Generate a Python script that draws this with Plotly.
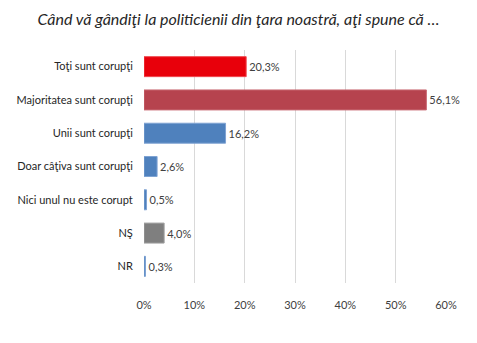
import plotly.graph_objects as go

categories = ["Toţi sunt corupţi", "Majoritatea sunt corupţi", "Unii sunt corupţi",
              "Doar câţiva sunt corupţi", "Nici unul nu este corupt", "NŞ", "NR"]
values = [20.3, 56.1, 16.2, 2.6, 0.5, 4.0, 0.3]
labels = ["20,3%", "56,1%", "16,2%", "2,6%", "0,5%", "4,0%", "0,3%"]
colors = ["#E8000B", "#B6434E", "#4F81BD", "#4F81BD", "#4F81BD", "#7F7F7F", "#4F81BD"]
line_colors = ["#F04A50", "#C86A73", "#7FA3D3", "#7FA3D3", "#7FA3D3", "#A0A0A0", "#7FA3D3"]
tick_vals = [0, 10, 20, 30, 40, 50, 60]
tick_text = ["0%", "10%", "20%", "30%", "40%", "50%", "60%"]
title = "Când vă gândiţi la politicienii din ţara noastră, aţi spune că …"

font = "Lato, 'Open Sans', sans-serif"

fig = go.Figure(go.Bar(
    x=values, y=categories, orientation="h",
    marker=dict(color=colors, line=dict(color=line_colors, width=1)),
    text=labels, textposition="outside", cliponaxis=False,
    textfont=dict(size=11, color="#404040", family=font),
    hoverinfo="skip",
))

fig.update_layout(
    width=477, height=343,
    margin=dict(l=144, r=31, t=50, b=60),
    paper_bgcolor="white", plot_bgcolor="white",
    bargap=0.4,
    showlegend=False,
    title=dict(text=title, x=0.5, xanchor="center", y=1, yanchor="top", pad=dict(t=14),
               font=dict(size=16, color="#262626", family=font, style="italic")),
    xaxis=dict(range=[0, 60], tickvals=tick_vals, ticktext=tick_text,
               showgrid=True, gridcolor="#D9D9D9", gridwidth=1,
               zeroline=False, showline=False,
               tickfont=dict(size=11, color="#404040", family=font),
               ticks="outside", ticklen=12, tickcolor="rgba(0,0,0,0)"),
    yaxis=dict(categoryorder="array", categoryarray=categories, autorange="reversed",
               tickfont=dict(size=11, color="#262626", family=font),
               ticks="outside", ticklen=8, tickcolor="rgba(0,0,0,0)", showline=False),
)

fig.write_html("out.html")
